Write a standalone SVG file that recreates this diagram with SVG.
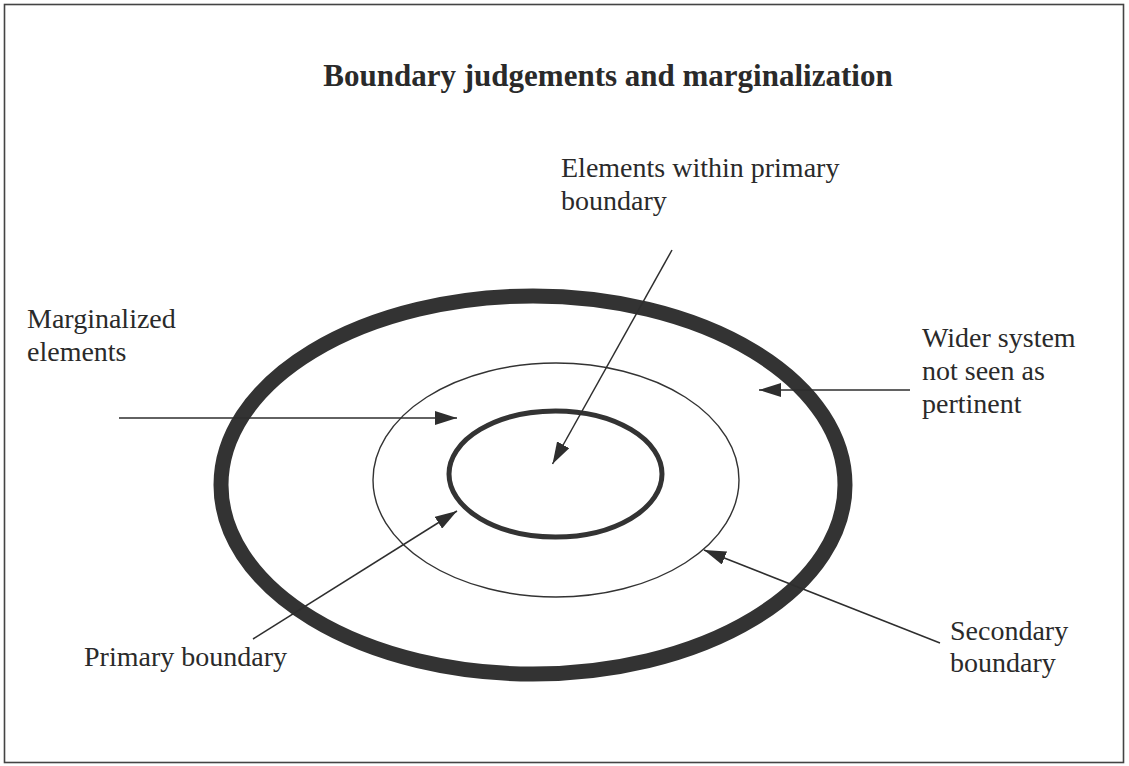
<svg xmlns="http://www.w3.org/2000/svg" width="1129" height="766" viewBox="0 0 1129 766">
  <style>
    .lbl { font-family: "Liberation Serif", "Times New Roman", serif; font-size: 28px; fill: #2a2a2a; }
    .title { font-family: "Liberation Serif", "Times New Roman", serif; font-size: 31px; font-weight: bold; fill: #2a2a2a; }
    .conn { stroke: #2e2e2e; stroke-width: 1.5; fill: none; }
    .ring { fill: none; stroke: #333333; }
  </style>
  <defs>
    <marker id="arrow" viewBox="0 0 22 14" markerWidth="22" markerHeight="14" refX="22" refY="7" orient="auto" markerUnits="userSpaceOnUse">
      <path d="M0,0 L22,7 L0,14 z" fill="#2e2e2e"/>
    </marker>
  </defs>
  <rect x="0" y="0" width="1129" height="766" fill="#ffffff"/>
  <rect x="4.5" y="4.5" width="1119" height="758" fill="none" stroke="#444444" stroke-width="1.6"/>

  <g id="title">
    <text class="title" x="608" y="86" text-anchor="middle">Boundary judgements and marginalization</text>
  </g>

  <g id="wider-system-ring">
    <ellipse class="ring" cx="533" cy="485" rx="312" ry="189" stroke-width="15"/>
  </g>
  <g id="secondary-boundary-ring">
    <ellipse class="ring" cx="556" cy="480" rx="183" ry="117" stroke-width="1.4"/>
  </g>
  <g id="primary-boundary-ring">
    <ellipse class="ring" cx="555.5" cy="474" rx="106.5" ry="63" stroke-width="5"/>
  </g>

  <g id="label-elements-within">
    <text class="lbl" x="561" y="177">Elements within primary</text>
    <text class="lbl" x="561" y="210">boundary</text>
  </g>
  <g id="label-marginalized">
    <text class="lbl" x="27" y="328">Marginalized</text>
    <text class="lbl" x="27" y="361">elements</text>
  </g>
  <g id="label-wider-system">
    <text class="lbl" x="922" y="347">Wider system</text>
    <text class="lbl" x="922" y="380">not seen as</text>
    <text class="lbl" x="922" y="413">pertinent</text>
  </g>
  <g id="label-primary-boundary">
    <text class="lbl" x="84" y="666">Primary boundary</text>
  </g>
  <g id="label-secondary-boundary">
    <text class="lbl" x="950" y="640">Secondary</text>
    <text class="lbl" x="950" y="672">boundary</text>
  </g>

  <g id="connectors">
    <line class="conn" x1="119" y1="418" x2="457" y2="418" marker-end="url(#arrow)"/>
    <line class="conn" x1="910" y1="390" x2="759" y2="390" marker-end="url(#arrow)"/>
    <line class="conn" x1="672" y1="250" x2="552.5" y2="464" marker-end="url(#arrow)"/>
    <line class="conn" x1="253" y1="639" x2="457" y2="511" marker-end="url(#arrow)"/>
    <line class="conn" x1="940" y1="643" x2="704" y2="550" marker-end="url(#arrow)"/>
  </g>
</svg>
